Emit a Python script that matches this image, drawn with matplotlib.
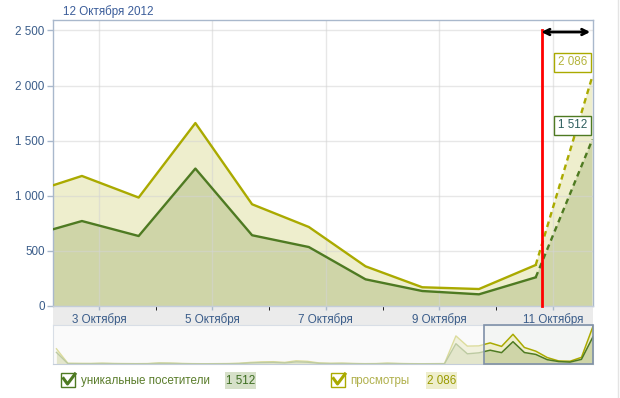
import numpy as np
import pandas as pd
import matplotlib
matplotlib.use('Agg')
import matplotlib.pyplot as plt
from matplotlib.patches import Rectangle
from matplotlib.lines import Line2D

plt.rcParams.update({
    'font.family': 'Liberation Sans',
    'font.size': 8.4
})

# daily stats, 26 Aug - 12 Oct 2012
dates = pd.date_range('2012-08-26', '2012-10-12', freq='D')
views = [850, 40, 35, 30, 45, 30, 25, 20, 25, 60, 50, 30, 20, 15, 20, 25, 40, 90,
         120, 130, 90, 180, 150, 60, 40, 50, 30, 20, 25, 50, 30, 20, 15, 20, 25,
         1570, 1000, 1013, 1180, 984, 1660, 923, 717, 360, 170, 154, 372, 2086]
uniques = [650, 25, 20, 20, 30, 20, 15, 15, 15, 40, 35, 20, 12, 10, 12, 15, 25, 60,
           80, 90, 60, 120, 100, 40, 25, 30, 20, 12, 15, 30, 20, 12, 10, 12, 15,
           1135, 570, 624, 771, 635, 1247, 642, 535, 242, 136, 106, 260, 1512]
tick_days = [3, 5, 7, 9, 11]
y_ticks = [0, 500, 1000, 1500, 2000, 2500]
title = '12 Октября 2012'
series_names = ['уникальные посетители', 'просмотры']

# x in days from 30 Sep
x = (dates - pd.Timestamp('2012-09-30')).days.to_numpy() - 0.3
v = np.array(views)
u = np.array(uniques)

VIEW_LINE = '#aaaa00'
VIEW_FILL = '#eeeecd'
UNIQ_LINE = '#4e7a22'
UNIQ_FILL = '#cfd5a8'
AXIS_COL = '#a9b8cc'
TEXT_COL = '#3b5d8a'

W, H = 620, 398


def fx(px):
    return px / W


def fy(py):
    return 1 - py / H


fig = plt.figure(figsize=(6.2, 3.98), dpi=100)

# main plot
ax = fig.add_axes([fx(53), fy(306), fx(540), (306 - 20) / H])
x0, x1 = 2.19, 11.71
ax.set_xlim(x0, x1)
ax.set_ylim(0, 2595)

ax.fill_between(x, 0, v, color=VIEW_FILL, lw=0, zorder=1)
ax.fill_between(x, 0, u, color=UNIQ_FILL, lw=0, zorder=1)
ax.plot(x[:-1], v[:-1], color=VIEW_LINE, lw=1.7, zorder=3)
ax.plot(x[:-1], u[:-1], color=UNIQ_LINE, lw=1.7, zorder=3)
ax.plot(x[-2:], v[-2:], color=VIEW_LINE, lw=1.7, ls=(0, (2.4, 1.8)), zorder=3)
ax.plot(x[-2:], u[-2:], color=UNIQ_LINE, lw=1.7, ls=(0, (2.4, 1.8)), zorder=3)

ax.set_xticks(tick_days)
ax.set_xticklabels([f'{d} Октября' for d in tick_days])
ax.set_xticks([d + 1 for d in tick_days[:-1]], minor=True)
ax.set_yticks(y_ticks)
ax.set_yticklabels([f'{t:,}'.replace(',', ' ') for t in y_ticks])
ax.tick_params(axis='both', colors=AXIS_COL, labelcolor=TEXT_COL, length=4, width=1)
ax.tick_params(axis='x', which='both', length=3, pad=2)
ax.tick_params(axis='y', pad=2)
ax.set_axisbelow('line')
ax.grid(True, color='#d4d4d4', alpha=0.55, lw=1)
for s in ax.spines.values():
    s.set_color(AXIS_COL)
    s.set_linewidth(1)
ax.spines['bottom'].set_color('#c4cdd9')

# current-time marker
ax.plot([10.81, 10.81], [0, 0.965], color='red', lw=2, zorder=4,
        transform=ax.get_xaxis_transform(), clip_on=False)
ax.annotate('', xy=(x1, 0.958), xytext=(10.75, 0.958),
            xycoords=ax.get_xaxis_transform(),
            arrowprops=dict(arrowstyle='<->', color='black', lw=2,
                            mutation_scale=10), zorder=5)

# value labels
fmt = lambda n: f'{n:,}'.replace(',', ' ')
ax.text(0.962, (306 - 62) / 286, fmt(views[-1]), transform=ax.transAxes,
        ha='center', va='center', color='#b4b43c', zorder=6,
        bbox=dict(boxstyle='square,pad=0.3', fc='white', ec=VIEW_LINE, lw=1))
ax.text(0.962, (306 - 125) / 286, fmt(uniques[-1]), transform=ax.transAxes,
        ha='center', va='center', color='#2f5f5f', zorder=6,
        bbox=dict(boxstyle='square,pad=0.3', fc='white', ec=UNIQ_LINE, lw=1))

fig.text(fx(63), fy(12), title, color='#3b5d9a', va='center', ha='left')

# grey band under the x axis
fig.patches.append(Rectangle((fx(53), fy(325)), fx(540), 19 / H, transform=fig.transFigure,
                             fc='#ebebeb', ec='none', zorder=-1))

# navigator
nav = fig.add_axes([fx(53), fy(364), fx(540), 39 / H])
nav.set_facecolor('#fafafa')
nav.set_xlim(x[0] - 0.3, x1)
nav.set_ylim(0, 2180)
nav.set_xticks([])
nav.set_yticks([])
for s in nav.spines.values():
    s.set_color('#d8dee6')
nav.spines['bottom'].set_color('#c4cdd9')
nav.fill_between(x, 0, v, color='#f1f1de', lw=0)
nav.fill_between(x, 0, u, color='#e3e6cc', lw=0)
nav.plot(x, v, color='#dcdc9c', lw=1)
nav.plot(x, u, color='#bccaa2', lw=1)

win = Rectangle((x0, 0), x1 - x0, 2180, fc='#f3f5f3', ec='none', zorder=2)
nav.add_patch(win)
clip = Rectangle((x0, 0), x1 - x0, 2180, transform=nav.transData)
for art in [nav.fill_between(x, 0, v, color=VIEW_FILL, lw=0, zorder=3),
            nav.fill_between(x, 0, u, color=UNIQ_FILL, lw=0, zorder=3),
            nav.plot(x, v, color=VIEW_LINE, lw=1.1, zorder=4)[0],
            nav.plot(x, u, color=UNIQ_LINE, lw=1.1, zorder=4)[0]]:
    art.set_clip_path(clip)
nav.add_patch(Rectangle((x0, 0), x1 - x0, 2180, fc='none', ec='#7f90a8', lw=1.2,
                        zorder=5, clip_on=False))

# legend
legend_items = [
    (61, 81, 225, 256, series_names[0], uniques[-1], UNIQ_LINE, '#5b7d2c', '#d6e0c9', '#3e6e22'),
    (331, 350, 426, 457, series_names[1], views[-1], VIEW_LINE, '#b0b04c', '#eeeecd', '#9a9a00'),
]
for bx, tx, vx0, vx1, name, val, col, tcol, vbg, vcol in legend_items:
    fig.patches.append(Rectangle((fx(bx), fy(387)), fx(14), 14 / H, transform=fig.transFigure,
                                 fc='white', ec=col, lw=1))
    fig.lines.append(Line2D([fx(bx + 2.5), fx(bx + 6.5), fx(bx + 14)],
                            [fy(378.5), fy(384), fy(374)], transform=fig.transFigure,
                            color=col, lw=2.2))
    fig.text(fx(tx), fy(381), name, color=tcol, va='center', ha='left')
    fig.patches.append(Rectangle((fx(vx0), fy(389)), fx(vx1 - vx0), 17.5 / H,
                                 transform=fig.transFigure, fc=vbg, ec='none'))
    fig.text(fx((vx0 + vx1) / 2), fy(381), fmt(val), color=vcol,
             va='center', ha='center')

fig.lines.append(Line2D([fx(618), fx(618)], [0, 1], transform=fig.transFigure,
                        color='#e4e4e4', lw=1))

fig.savefig('out.png', dpi=100)
plt.close(fig)
